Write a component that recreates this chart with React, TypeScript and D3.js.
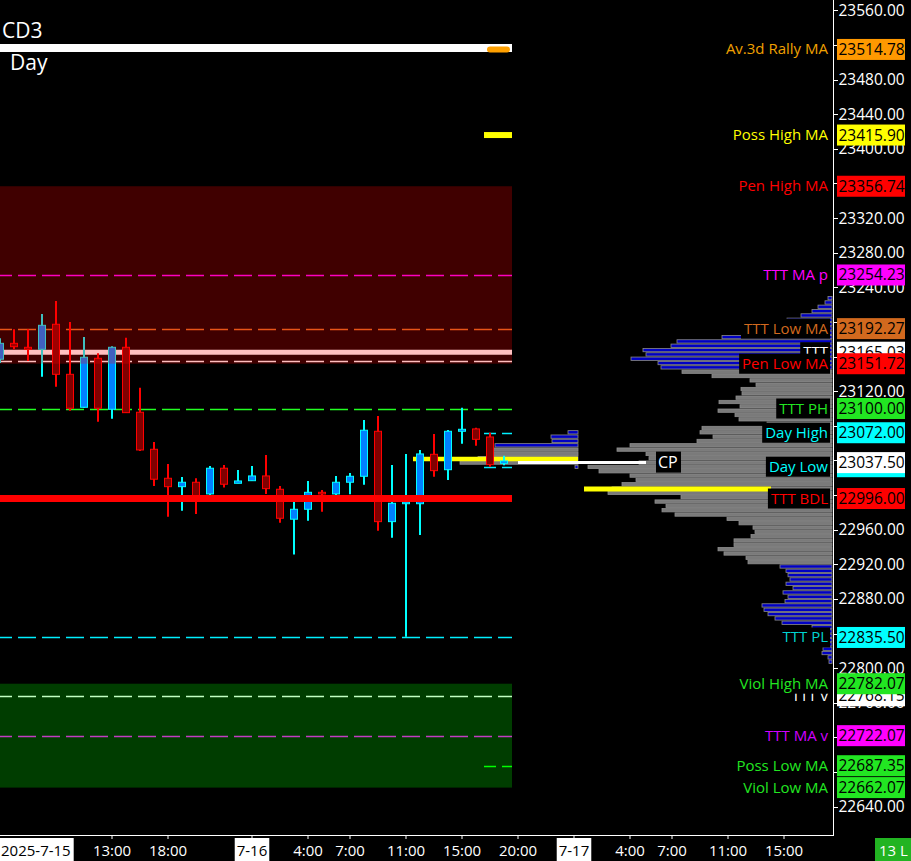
import React from "react";
import * as d3 from "d3";

const W = 911;
const H = 861;
const PLOT_RIGHT = 833;
const PLOT_BOTTOM = 835;
const FONT = "'Open Sans', 'Noto Sans', sans-serif";

// ---------- candle data (hourly) ----------
const candleTimes = [
  "7-15 05:00", "7-15 06:00", "7-15 07:00", "7-15 08:00", "7-15 09:00", "7-15 10:00",
  "7-15 11:00", "7-15 12:00", "7-15 13:00", "7-15 14:00", "7-15 15:00", "7-15 16:00",
  "7-15 18:00", "7-15 19:00", "7-15 20:00", "7-15 21:00", "7-15 22:00", "7-15 23:00",
  "7-16 00:00", "7-16 01:00", "7-16 02:00", "7-16 03:00", "7-16 04:00", "7-16 05:00",
  "7-16 06:00", "7-16 07:00", "7-16 08:00", "7-16 09:00", "7-16 10:00", "7-16 11:00",
  "7-16 12:00", "7-16 13:00", "7-16 14:00", "7-16 15:00", "7-16 16:00", "7-16 18:00",
  "7-16 19:00",
];
const candleOpen = [
  23156.9, 23175.3, 23170.7, 23168.4, 23197.3, 23139.5, 23101.4, 23158.0, 23099.1, 23170.7,
  23095.7, 23052.9, 23019.4, 23009.7, 23014.8, 23001.3, 23031.0, 23013.6, 23016.6, 23022.1,
  23006.7, 22972.1, 22983.6, 23003.2, 23001.3, 23014.8, 23021.7, 23073.7, 22969.3, 22990.0,
  22990.0, 23047.1, 23029.3, 23073.7, 23076.4, 23067.1, 23036.7,
];
const candleHigh = [
  23181.1, 23191.5, 23191.5, 23209.2, 23224.2, 23200.0, 23182.6, 23163.8, 23172.0, 23181.8,
  23124.1, 23061.3, 23035.9, 23020.9, 23019.4, 23033.6, 23034.8, 23029.0, 23033.6, 23046.3,
  23010.5, 22992.4, 23016.3, 23005.9, 23022.1, 23025.5, 23086.8, 23091.4, 23034.8, 23047.5,
  23052.1, 23070.6, 23075.2, 23101.0, 23077.9, 23072.1, 23045.5,
];
const candleLow = [
  23152.6, 23168.4, 23154.9, 23136.8, 23125.2, 23097.5, 23101.0, 23084.8, 23088.3, 23095.0,
  23051.0, 23010.5, 22975.0, 22982.0, 22978.2, 22997.9, 23008.6, 23013.6, 23016.6, 23001.3,
  22968.1, 22931.2, 22970.4, 22980.8, 23000.0, 23001.0, 23012.0, 22958.9, 22950.8, 22836.4,
  22953.9, 23021.3, 23017.4, 23059.4, 23057.1, 23032.8, 23034.4,
];
const candleClose = [
  23175.3, 23171.4, 23168.4, 23196.1, 23139.5, 23100.3, 23159.2, 23100.3, 23170.7, 23095.2,
  23052.1, 23018.3, 23009.7, 23014.8, 22996.7, 23031.0, 23012.5, 23016.3, 23022.1, 23007.4,
  22973.2, 22983.6, 23003.2, 23001.3, 23014.8, 23021.7, 23074.9, 22969.3, 22990.5, 22992.0,
  23047.5, 23028.2, 23073.7, 23076.0, 23064.4, 23035.1, 23039.4,
];

// ---------- price axis ----------
const priceTickLabels = [23560, 23480, 23440, 23400, 23320, 23280, 23240, 23120, 22960, 22920, 22880, 22800, 22760, 22640];
const priceTickMarks = d3.range(22640, 23561, 40);

// ---------- time axis ----------
const firstDateLabel = "2025-7-15";
const timeTickTimes = [
  "7-15 13:00", "7-15 18:00", "7-16 00:00", "7-16 04:00", "7-16 07:00", "7-16 11:00", "7-16 15:00",
  "7-16 20:00", "7-17 00:00", "7-17 04:00", "7-17 07:00", "7-17 11:00", "7-17 15:00",
];
const timeTickLabels = ["13:00", "18:00", "7-16", "4:00", "7:00", "11:00", "15:00", "20:00", "7-17", "4:00", "7:00", "11:00", "15:00"];

// ---------- levels (right side labels) ----------
const levelNames = [
  "Av.3d Rally MA", "Poss High MA", "Pen High MA", "TTT MA p", "TTT Low MA", "TTT", "Pen Low MA",
  "TTT PH", "Day High", "Day Low", "Last", "TTT BDL", "TTT PL", "TTT v", "Viol High MA",
  "TTT MA v", "Poss Low MA", "Viol Low MA",
];
const levelValues = [
  23514.78, 23415.9, 23356.74, 23254.23, 23192.27, 23165.03, 23151.72,
  23100.0, 23072.0, 23032.75, 23037.5, 22996.0, 22835.5, 22768.15, 22782.07,
  22722.07, 22687.35, 22662.07,
];
const extraWhiteDashLevel = 23155.0;
const dayYellowLevel = 23041.7;
const compositeYellowLevel = 23007.0;

// ---------- volume profiles ----------
const profileTopPrice = 23227.5;
const profileStep = 5;
const profileVolumes = [
  40, 70, 140, 200, 310, 450, 550, 600, 700, 1100,
  1550, 1610, 1890, 1860, 2010, 1740, 1710, 1500, 1200, 820,
  760, 910, 900, 960, 1130, 920, 1140, 970, 930, 650,
  1300, 1320, 1190, 1350, 2020, 2150, 1860, 1830, 1930, 2440,
  2330, 2020, 1960, 2100, 2200, 2240, 1510, 1770, 1660, 1700,
  1570, 1050, 930, 790, 770, 810, 980, 980, 1140, 1080,
  860, 840, 520, 460, 440, 420, 460, 390, 490, 440,
  470, 700, 680, 640, 570, 500, 200, 150, 100, 80,
  140, 90, 100, 40, 30,
];
const profileValueArea = [22920, 23145];

const dayProfileTopPrice = 23072.5;
const dayProfileVolumes = [100, 270, 260, 830, 850, 850, 1000, 1180, 30];
const dayProfileValueArea = [23035, 23055];

// ---------- styles ----------
const LEVEL_STYLE: Record<string, { box: string; text: string | null }> = {
  "Av.3d Rally MA": { box: "#ff9900", text: "#f0a000" },
  "Poss High MA": { box: "#ffff00", text: "#ffff00" },
  "Pen High MA": { box: "#ff0000", text: "#ff0000" },
  "TTT MA p": { box: "#ff00ff", text: "#ff00ff" },
  "TTT Low MA": { box: "#d2691e", text: "#d2691e" },
  "TTT": { box: "#ffffff", text: "#ffffff" },
  "Pen Low MA": { box: "#ff0000", text: "#ff0000" },
  "TTT PH": { box: "#22e622", text: "#22e622" },
  "Day High": { box: "#00ffff", text: "#00ffff" },
  "Day Low": { box: "#00ffff", text: "#00ffff" },
  "Last": { box: "#ffffff", text: null },
  "TTT BDL": { box: "#ff0000", text: "#ff0000" },
  "TTT PL": { box: "#00ffff", text: "#00d2d2" },
  "TTT v": { box: "#ffffff", text: "#ffffff" },
  "Viol High MA": { box: "#22e622", text: "#22e622" },
  "TTT MA v": { box: "#ff00ff", text: "#d000ff" },
  "Poss Low MA": { box: "#22e622", text: "#22e622" },
  "Viol Low MA": { box: "#22e622", text: "#22e622" },
};

function slot(t: string): number {
  const [md, hm] = t.split(" ");
  const day = +md.split("-")[1] - 15;
  const h = +hm.split(":")[0];
  return day * 23 + (h > 17 ? h - 1 : h);
}

let _ctx: CanvasRenderingContext2D | null = null;
function textWidth(s: string, size: number): number {
  if (!_ctx && typeof document !== "undefined") {
    _ctx = document.createElement("canvas").getContext("2d");
  }
  if (!_ctx) return s.length * size * 0.55;
  _ctx.font = `${size}px 'Open Sans'`;
  return _ctx.measureText(s).width;
}

const lv = (name: string) => levelValues[levelNames.indexOf(name)];

export default function App() {
  const y = d3.scaleLinear().domain([22640, 23560]).range([806.7, 10.3]);
  const x = d3.scaleLinear().domain([5, 64.5]).range([0, PLOT_RIGHT]);
  const volX = d3.scaleLinear().domain([0, 2440]).range([0, 244]);

  const slots = candleTimes.map(slot);
  const lastSlot = slots[slots.length - 1];
  const dataRight = x(lastSlot) + 8;
  const shortStart = x(lastSlot) - 20;
  const dayProfileRight = x(slot("7-17 00:00")) + 4;
  const dayYellowStart = x(slot("7-16 11:00")) + 7;
  const cpStart = x(slot("7-16 20:00"));

  const ry = (v: number) => Math.round(y(v)) + 0.5;

  const dashed = (v: number, color: string, x1 = 0, x2 = dataRight, key?: string) => (
    <line key={key ?? `d${v}`} x1={x1} x2={x2} y1={ry(v)} y2={ry(v)} stroke={color} strokeWidth={1.5}
      strokeDasharray="18 6" strokeDashoffset={6} />
  );

  const barH = Math.abs(y(0) - y(profileStep)) - 1;

  const profileBars = (top: number, vols: number[], va: number[], right: number, prefix: string) =>
    vols.map((vol, i) => {
      const p = top - i * profileStep;
      const inVA = p >= va[0] && p <= va[1];
      const len = volX(vol);
      return (
        <rect key={`${prefix}${i}`} x={right - len} y={y(p) - barH / 2} width={len} height={barH}
          fill={inVA ? "#7a7a7a" : "#0000c4"} stroke={inVA ? "#8e8e8e" : "#8a8a8a"} strokeWidth={0.8} />
      );
    });

  const NAME_SIZE = 15;
  const NUM_SIZE = 15.5;

  return (
    <svg width={W} height={H} style={{ position: "absolute", left: 0, top: 0 }} fontFamily={FONT}>
      <rect x={0} y={0} width={W} height={H} fill="#000" />

      {/* day (developing) profile */}
      {profileBars(dayProfileTopPrice, dayProfileVolumes, dayProfileValueArea, dayProfileRight, "dp")}

      {/* yellow level under candles */}
      <line x1={dayYellowStart} x2={dayProfileRight} y1={y(dayYellowLevel)} y2={y(dayYellowLevel)} stroke="#ffff00" strokeWidth={4.5} />

      {/* level lines */}
      {dashed(lv("TTT MA p"), "#ff00ff")}
      {dashed(lv("TTT Low MA"), "#e07020")}
      <line x1={0} x2={dataRight} y1={y(lv("TTT"))} y2={y(lv("TTT"))} stroke="#ffffff" strokeWidth={5} />
      {dashed(extraWhiteDashLevel, "#ffffff")}
      {dashed(lv("TTT PH"), "#22ff22")}
      {dashed(lv("TTT PL"), "#00f0ff")}
      {dashed(lv("TTT v"), "#ffffff")}
      {dashed(lv("TTT MA v"), "#ff00ff")}
      {dashed(lv("Day High"), "#00f0ff", shortStart, dataRight)}
      {dashed(lv("Day Low"), "#00f0ff", shortStart, dataRight)}
      {dashed(lv("Poss Low MA"), "#00ff00", shortStart, dataRight)}

      {/* candles */}
      {slots.map((s, i) => {
        const up = candleClose[i] >= candleOpen[i];
        const cx = x(s);
        const top = y(Math.max(candleOpen[i], candleClose[i]));
        const bot = y(Math.min(candleOpen[i], candleClose[i]));
        const col = up ? "#00ffff" : "#ff0000";
        return (
          <g key={`c${i}`}>
            <line x1={cx} x2={cx} y1={y(candleHigh[i])} y2={y(candleLow[i])} stroke={col} strokeWidth={2} />
            <rect x={cx - 3.5} y={top} width={7} height={Math.max(1.5, bot - top)} fill={up ? "#0080ff" : "#800000"}
              stroke={col} strokeWidth={1} />
          </g>
        );
      })}

      {/* zones overlay */}
      <rect x={0} width={dataRight} y={y(lv("Pen High MA"))} height={y(lv("Pen Low MA")) - y(lv("Pen High MA"))}
        fill="#ff0000" fillOpacity={0.25} />
      <rect x={0} width={dataRight} y={y(lv("Viol High MA"))} height={y(lv("Viol Low MA")) - y(lv("Viol High MA"))}
        fill="#00ff00" fillOpacity={0.24} />

      {/* BDL thick red line */}
      <line x1={0} x2={dataRight} y1={y(lv("TTT BDL"))} y2={y(lv("TTT BDL"))} stroke="#ff0000" strokeWidth={7} />

      {/* short MA markers */}
      <line x1={shortStart} x2={dataRight} y1={y(lv("Poss High MA"))} y2={y(lv("Poss High MA"))} stroke="#ffff00" strokeWidth={6} />

      {/* header */}
      <rect x={0} y={44} width={dataRight} height={8} fill="#ffffff" />
      <line x1={shortStart + 6} x2={dataRight - 5} y1={y(lv("Av.3d Rally MA"))} y2={y(lv("Av.3d Rally MA"))}
        stroke="#ffa000" strokeWidth={6} strokeLinecap="round" />
      <text x={2} y={38} fill="#fff" fontSize={21}>CD3</text>
      <text x={10} y={70} fill="#fff" fontSize={21}>Day</text>

      {/* composite volume profile */}
      {profileBars(profileTopPrice, profileVolumes, profileValueArea, PLOT_RIGHT - 1, "cp")}

      {/* composite yellow line */}
      <line x1={584} x2={771} y1={y(compositeYellowLevel)} y2={y(compositeYellowLevel)} stroke="#ffff00" strokeWidth={5} />

      {/* CP line + label */}
      <line x1={cpStart} x2={646} y1={y(lv("Last"))} y2={y(lv("Last"))} stroke="#ffffff" strokeWidth={3} />
      <rect x={656} y={y(lv("Last")) - 11} width={25} height={21} fill="#000" />
      <text x={658} y={y(lv("Last")) + 5.5} fill="#fff" fontSize={16}>CP</text>

      {/* axes */}
      <line x1={PLOT_RIGHT + 0.5} x2={PLOT_RIGHT + 0.5} y1={0} y2={PLOT_BOTTOM} stroke="#fff" strokeWidth={1} shapeRendering="crispEdges" />
      <line x1={0} x2={PLOT_RIGHT + 1} y1={PLOT_BOTTOM + 0.5} y2={PLOT_BOTTOM + 0.5} stroke="#fff" strokeWidth={1} shapeRendering="crispEdges" />
      {priceTickMarks.map((v) => (
        <line key={`pt${v}`} x1={PLOT_RIGHT} x2={PLOT_RIGHT + 5} y1={ry(v)} y2={ry(v)} stroke="#fff" strokeWidth={1} shapeRendering="crispEdges" />
      ))}
      {priceTickLabels.map((v) => (
        <text key={`pl${v}`} x={838.5} y={y(v) + 5.5} fill="#fff" fontSize={NUM_SIZE}>{v.toFixed(2)}</text>
      ))}

      {/* level labels */}
      {levelNames.map((name, i) => {
        const v = levelValues[i];
        const st = LEVEL_STYLE[name];
        const cy = y(v);
        const tw = textWidth(name, NAME_SIZE);
        return (
          <g key={`lv${i}`}>
            {st.text && (
              <>
                <rect x={828 - tw - 3} y={cy - 10} width={tw + 5} height={20} fill="#000" />
                <text x={828} y={cy + 5} fill={st.text} fontSize={NAME_SIZE} textAnchor="end">{name}</text>
              </>
            )}
            <rect x={837} y={cy - 10.5} width={68} height={21} fill={st.box} />
            <text x={838.5} y={cy + 5.5} fill="#000" fontSize={NUM_SIZE}>{v.toFixed(2)}</text>
          </g>
        );
      })}

      {/* time axis */}
      {timeTickTimes.map((t, i) => {
        const tx = x(slot(t));
        const label = timeTickLabels[i];
        const isDate = label.includes("-");
        const tw = textWidth(label, 15);
        return (
          <g key={`tt${i}`}>
            <line x1={tx} x2={tx} y1={PLOT_BOTTOM} y2={PLOT_BOTTOM + 4} stroke="#fff" strokeWidth={1} />
            {isDate && <rect x={tx - tw / 2 - 2} y={838} width={tw + 4} height={23} fill="#fff" />}
            <text x={tx} y={856} fill={isDate ? "#000" : "#fff"} fontSize={15} textAnchor="middle">{label}</text>
          </g>
        );
      })}
      <rect x={0} y={838} width={textWidth(firstDateLabel, 15) + 4} height={23} fill="#fff" />
      <text x={1} y={856} fill="#000" fontSize={15}>{firstDateLabel}</text>

      <rect x={875} y={838} width={36} height={23} fill="#22b422" />
      <text x={879} y={856} fill="#fff" fontSize={15}>13 L</text>
    </svg>
  );
}
